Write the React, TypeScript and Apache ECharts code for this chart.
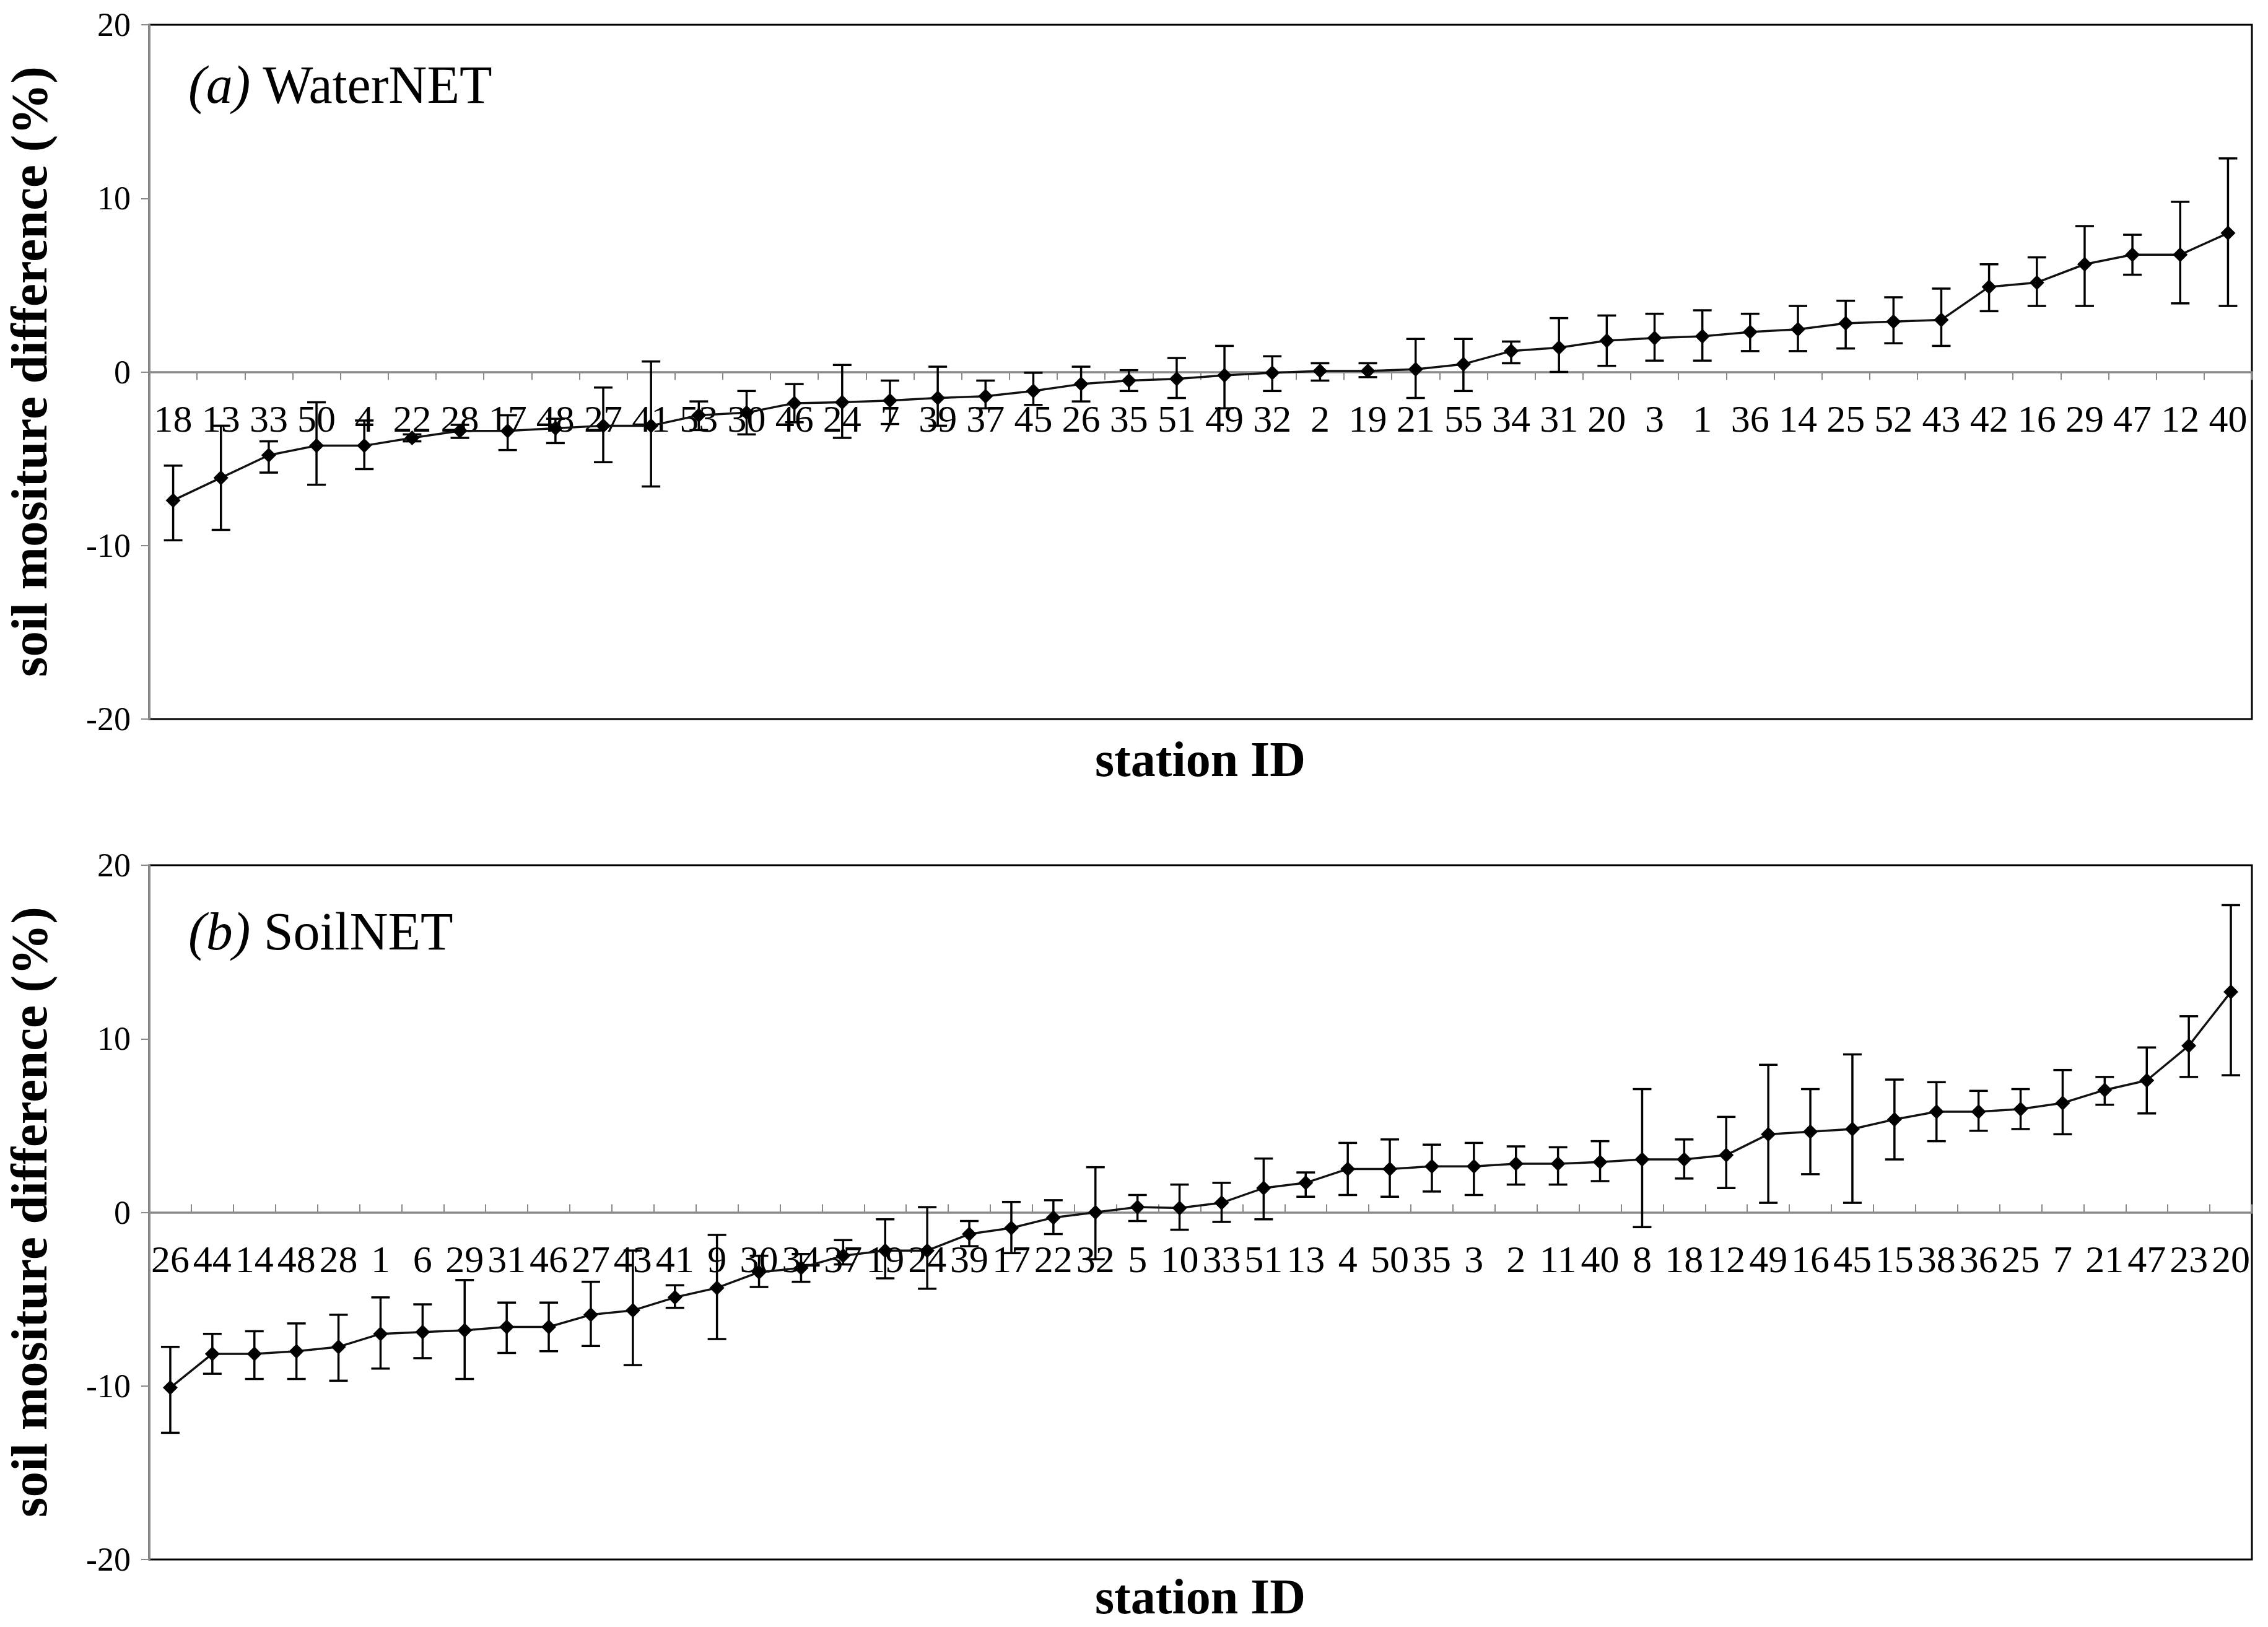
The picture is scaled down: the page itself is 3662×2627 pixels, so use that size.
import React, { useEffect, useRef } from "react";
import * as echarts from "echarts";

// ---------- (a) WaterNET ----------
const waterIds = ["18","13","33","50","4","22","28","17","48","27","41","53","30","46","24","7","39","37","45","26","35","51","49","32","2","19","21","55","34","31","20","3","1","36","14","25","52","43","42","16","29","47","12","40"];
const waterMean = [-7.4,-6.1,-4.8,-4.25,-4.25,-3.8,-3.4,-3.4,-3.25,-3.1,-3.1,-2.5,-2.35,-1.8,-1.75,-1.65,-1.5,-1.4,-1.1,-0.7,-0.5,-0.4,-0.2,-0.05,0.05,0.05,0.15,0.45,1.2,1.4,1.8,1.95,2.05,2.3,2.45,2.8,2.9,3.0,4.9,5.15,6.2,6.75,6.75,8.0];
const waterUpper = [-5.4,-3.1,-4.0,-1.75,-2.8,-3.6,-3.05,-2.5,-2.7,-0.9,0.6,-1.7,-1.1,-0.7,0.4,-0.5,0.3,-0.5,-0.05,0.3,0.1,0.8,1.5,0.9,0.5,0.5,1.9,1.9,1.75,3.1,3.25,3.35,3.55,3.35,3.8,4.1,4.3,4.8,6.2,6.6,8.4,7.9,9.8,12.3];
const waterLower = [-9.7,-9.1,-5.8,-6.5,-5.6,-4.0,-3.8,-4.5,-4.1,-5.2,-6.6,-3.35,-3.6,-2.9,-3.8,-3.0,-3.1,-2.1,-1.9,-1.7,-1.1,-1.5,-2.1,-1.1,-0.5,-0.3,-1.5,-1.1,0.5,0.0,0.35,0.65,0.65,1.2,1.2,1.35,1.65,1.5,3.5,3.8,3.8,5.6,3.95,3.8];

// ---------- (b) SoilNET ----------
const soilIds = ["26","44","14","48","28","1","6","29","31","46","27","43","41","9","30","34","37","19","24","39","17","22","32","5","10","33","51","13","4","50","35","3","2","11","40","8","18","12","49","16","45","15","38","36","25","7","21","47","23","20"];
const soilMean = [-10.1,-8.15,-8.15,-8.0,-7.75,-7.0,-6.9,-6.8,-6.6,-6.6,-5.9,-5.65,-4.9,-4.35,-3.45,-3.2,-2.5,-2.2,-2.2,-1.25,-0.9,-0.3,0.0,0.3,0.25,0.55,1.4,1.7,2.5,2.5,2.65,2.65,2.8,2.8,2.9,3.05,3.05,3.3,4.5,4.65,4.8,5.35,5.8,5.8,5.95,6.3,7.05,7.6,9.6,12.7];
const soilUpper = [-7.75,-7.0,-6.85,-6.4,-5.9,-4.9,-5.3,-3.9,-5.2,-5.2,-4.0,-2.2,-4.2,-1.3,-2.5,-2.4,-1.6,-0.4,0.3,-0.5,0.6,0.7,2.6,1.0,1.6,1.7,3.1,2.3,4.0,4.2,3.9,4.0,3.8,3.75,4.1,7.1,4.2,5.5,8.5,7.1,9.1,7.65,7.5,7.0,7.1,8.2,7.8,9.5,11.3,17.7];
const soilLower = [-12.7,-9.3,-9.6,-9.6,-9.7,-9.0,-8.4,-9.6,-8.1,-8.0,-7.7,-8.8,-5.5,-7.3,-4.3,-4.0,-3.0,-3.8,-4.4,-1.95,-2.35,-1.25,-2.7,-0.5,-1.0,-0.55,-0.4,0.9,1.0,0.9,1.2,1.0,1.6,1.6,1.8,-0.85,1.95,1.4,0.55,2.2,0.55,3.05,4.1,4.7,4.8,4.5,6.2,5.7,7.8,7.9];

const yTicks = { min: -20, max: 20, interval: 10 };
const yAxisTitle = "soil mositure difference (%)";
const xAxisTitle = "station ID";

const FONT = "Liberation Serif";

function errorBarRender(params: any, api: any) {
  const x = api.value(0);
  const lo = api.value(1);
  const hi = api.value(2);
  const pHi = api.coord([x, hi]);
  const pLo = api.coord([x, lo]);
  const w = 15;
  const st = { stroke: "#000", lineWidth: 3.5 };
  return {
    type: "group",
    children: [
      { type: "line", shape: { x1: pHi[0], y1: pHi[1], x2: pLo[0], y2: pLo[1] }, style: st },
      { type: "line", shape: { x1: pHi[0] - w, y1: pHi[1], x2: pHi[0] + w, y2: pHi[1] }, style: st },
      { type: "line", shape: { x1: pLo[0] - w, y1: pLo[1], x2: pLo[0] + w, y2: pLo[1] }, style: st },
    ],
  };
}

export default function App() {
  const ref = useRef<HTMLDivElement>(null);
  useEffect(() => {
    if (!ref.current) return;
    const chart = echarts.init(ref.current, undefined, { renderer: "svg" });

    const gridLeft = 241;
    const gridRight = 26;
    const gridH = 1121;
    const grids = [
      { left: gridLeft, right: gridRight, top: 40, height: gridH },
      { left: gridLeft, right: gridRight, top: 1397, height: gridH },
    ].map((g) => ({ ...g, show: true, borderColor: "#000", borderWidth: 3, backgroundColor: "#fff" }));

    // labels sit just below the zero line (middle of the grid)
    const labelMargin = -(gridH / 2 - 44);

    const xAxis = (gi: number, ids: string[], inside: boolean) => ({
      type: "category",
      gridIndex: gi,
      data: ids,
      boundaryGap: true,
      axisLine: { show: true, onZero: true, lineStyle: { color: "#8a8a8a", width: 3.5 } },
      axisTick: { show: true, inside, length: 13, alignWithLabel: false, lineStyle: { color: "#8a8a8a", width: 2 } },
      axisLabel: {
        interval: 0,
        color: "#000",
        fontFamily: FONT,
        fontSize: 62,
        margin: labelMargin,
        verticalAlign: "top",
        hideOverlap: false,
      },
      splitLine: { show: false },
    });

    const yAxis = (gi: number) => ({
      type: "value",
      gridIndex: gi,
      min: yTicks.min,
      max: yTicks.max,
      interval: yTicks.interval,
      axisLine: { show: true, lineStyle: { color: "#8a8a8a", width: 3 } },
      axisTick: { show: true, inside: false, length: 13, lineStyle: { color: "#8a8a8a", width: 2 } },
      axisLabel: { color: "#000", fontFamily: FONT, fontSize: 54, margin: 30 },
      splitLine: { show: false },
    });

    const lineSeries = (gi: number, vals: number[]) => ({
      type: "line",
      xAxisIndex: gi,
      yAxisIndex: gi,
      data: vals,
      symbol: "diamond",
      symbolSize: 24,
      itemStyle: { color: "#000" },
      lineStyle: { color: "#111", width: 3.5 },
      z: 4,
    });

    const errSeries = (gi: number, lo: number[], hi: number[]) => ({
      type: "custom",
      xAxisIndex: gi,
      yAxisIndex: gi,
      data: lo.map((l, i) => [i, l, hi[i]]),
      encode: { x: 0, y: [1, 2] },
      renderItem: errorBarRender,
      z: 3,
    });

    const ytitle = (cy: number) => ({
      type: "text",
      x: 47,
      y: cy,
      rotation: Math.PI / 2,
      style: {
        text: yAxisTitle,
        font: `bold 83px "${FONT}"`,
        fill: "#000",
        textAlign: "center",
        textVerticalAlign: "middle",
      },
    });

    const xtitle = (cy: number) => ({
      type: "text",
      x: 1938,
      y: cy,
      style: {
        text: xAxisTitle,
        font: `bold 80px "${FONT}"`,
        fill: "#000",
        textAlign: "center",
        textVerticalAlign: "middle",
      },
    });

    const panel = (cy: number, letter: string, name: string) => ({
      type: "text",
      x: 304,
      y: cy,
      style: {
        text: `{i|(${letter})}{n| ${name}}`,
        fill: "#000",
        textAlign: "left",
        textVerticalAlign: "middle",
        rich: {
          i: { fontFamily: FONT, fontSize: 86, fontStyle: "italic", fill: "#000" },
          n: { fontFamily: FONT, fontSize: 86, fill: "#000" },
        },
      },
    });

    chart.setOption({
      animation: false,
      backgroundColor: "#fff",
      grid: grids,
      xAxis: [xAxis(0, waterIds, false), xAxis(1, soilIds, true)],
      yAxis: [yAxis(0), yAxis(1)],
      series: [
        errSeries(0, waterLower, waterUpper),
        lineSeries(0, waterMean),
        errSeries(1, soilLower, soilUpper),
        lineSeries(1, soilMean),
      ],
      graphic: [
        ytitle(600),
        ytitle(1957),
        xtitle(1226),
        xtitle(2578),
        panel(137, "a", "WaterNET"),
        panel(1504, "b", "SoilNET"),
      ],
    });

    return () => chart.dispose();
  }, []);

  return (
    <div
      ref={ref}
      style={{ position: "fixed", left: 0, top: 0, width: 3662, height: 2627, background: "#fff" }}
    />
  );
}
